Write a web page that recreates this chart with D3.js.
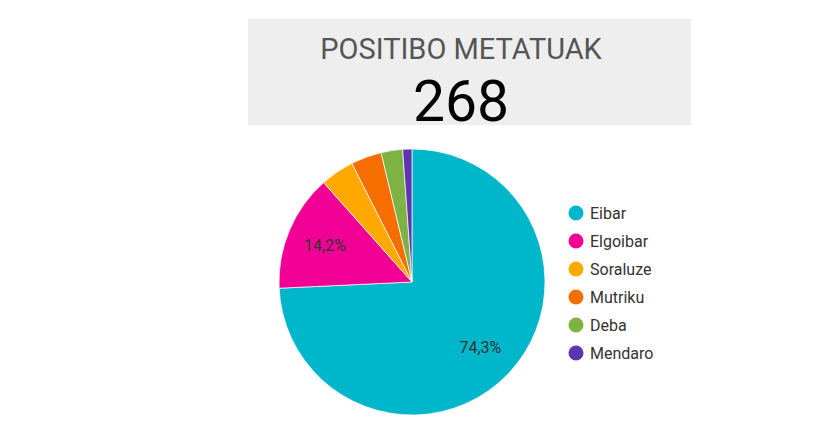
<!DOCTYPE html>
<html>
<head>
<meta charset="utf-8">
<script src="https://cdn.jsdelivr.net/npm/d3@7"></script>
<style>
html,body{margin:0;padding:0;background:#fff;}
svg{display:block;font-family:Roboto, sans-serif;}
</style>
</head>
<body>
<svg id="chart" width="840" height="444"></svg>
<script>
const titleText = "POSITIBO METATUAK";
const totalValue = 268;
const categories = ["Eibar", "Elgoibar", "Soraluze", "Mutriku", "Deba", "Mendaro"];
const values = [199, 38, 11, 10, 7, 3];
const colors = ["#00b6cb", "#f10096", "#ffa800", "#f66d00", "#7cb342", "#5e35b1"];

const svg = d3.select("#chart");

// Scorecard
svg.append("rect").attr("x", 248).attr("y", 19).attr("width", 443).attr("height", 106).attr("fill", "#eeeeee");
svg.append("text").attr("x", 461).attr("y", 59).attr("text-anchor", "middle")
  .attr("font-size", 29).attr("fill", "#555").text(titleText);
svg.append("text").attr("x", 461).attr("y", 121).attr("text-anchor", "middle")
  .attr("font-size", 57).attr("fill", "#000").text(totalValue);

// Pie
const cx = 412, cy = 282, r = 133;
const data = categories.map((c, i) => ({name: c, value: values[i], color: colors[i]}));
const total = d3.sum(values);
const pie = d3.pie().value(d => d.value).sort(null);
const arc = d3.arc().innerRadius(0).outerRadius(r);
const labelArc = d3.arc().innerRadius(r * 0.71).outerRadius(r * 0.71);
const g = svg.append("g").attr("transform", `translate(${cx},${cy})`);
const arcs = pie(data);
g.selectAll("path").data(arcs).enter().append("path")
  .attr("d", arc).attr("fill", d => d.data.color)
  .attr("stroke", "#fff").attr("stroke-width", 0.7);
const fmt = v => (v * 100).toFixed(1).replace(".", ",") + "%";
g.selectAll("text.lbl").data(arcs.filter(d => d.data.value / total > 0.1)).enter().append("text")
  .attr("class", "lbl")
  .attr("transform", d => `translate(${labelArc.centroid(d)})`)
  .attr("text-anchor", "middle").attr("dy", "0.35em")
  .attr("font-size", 16).attr("fill", "#333")
  .text(d => fmt(d.data.value / total));

// Legend
const lg = svg.append("g").attr("transform", "translate(576,213)");
const items = lg.selectAll("g").data(data).enter().append("g")
  .attr("transform", (d, i) => `translate(0,${i * 28})`);
items.append("circle").attr("r", 7.5).attr("fill", d => d.color);
items.append("text").attr("x", 14).attr("dy", "0.35em").attr("font-size", 16)
  .attr("fill", "#333").text(d => d.name);
</script>
</body>
</html>
